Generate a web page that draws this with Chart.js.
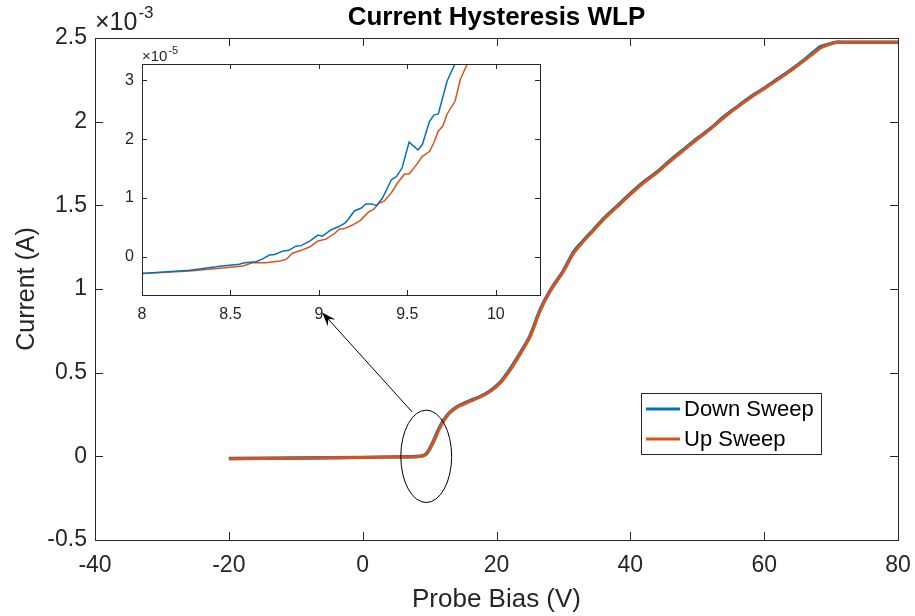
<!DOCTYPE html>
<html>
<head>
<meta charset="utf-8">
<script src="https://cdn.jsdelivr.net/npm/chart.js@4"></script>
<style>
    body { margin: 0; background: #fff; }
    #wrap { position: relative; width: 915px; height: 616px; }
    #mainChart { position: absolute; left: 0; top: 0; }
    #insetChart { position: absolute; left: 100px; top: 44px; }
</style>
</head>
<body>
<div id="wrap">
    <canvas id="mainChart" width="915" height="616"></canvas>
    <canvas id="insetChart" width="460" height="286"></canvas>
</div>
<script>
// main plot data (probe bias in V, current in units of 1e-3 A)
const mainV = [-20, -10, 0, 5, 8, 9, 9.6, 10.5, 11.5, 12.5, 13.5, 14.5, 16, 17.5, 19, 20.5, 22, 23.5, 25, 26.5, 28, 30, 31.5, 33, 34.5, 36, 38, 40, 42, 44, 46, 48, 50, 52, 54, 56, 58, 60, 62, 64, 66, 67.5, 68.5, 69.5, 70.8, 72, 76, 80];
const downMain = [-0.013, -0.01, -0.006, -0.003, -0.001, 0.004, 0.02, 0.085, 0.175, 0.24, 0.28, 0.305, 0.332, 0.356, 0.39, 0.44, 0.52, 0.615, 0.72, 0.875, 0.99, 1.11, 1.22, 1.29, 1.355, 1.42, 1.495, 1.57, 1.64, 1.70, 1.77, 1.835, 1.90, 1.96, 2.03, 2.09, 2.15, 2.20, 2.255, 2.31, 2.37, 2.42, 2.45, 2.462, 2.475, 2.475, 2.475, 2.475];
const upMain = [-0.014, -0.011, -0.007, -0.004, -0.002, 0.002, 0.015, 0.077, 0.167, 0.235, 0.276, 0.301, 0.328, 0.353, 0.386, 0.435, 0.512, 0.608, 0.712, 0.867, 0.985, 1.105, 1.212, 1.285, 1.35, 1.415, 1.49, 1.565, 1.635, 1.695, 1.765, 1.83, 1.895, 1.957, 2.025, 2.087, 2.145, 2.197, 2.25, 2.305, 2.365, 2.412, 2.442, 2.458, 2.473, 2.475, 2.475, 2.475];
const mainXTicks = [-40, -20, 0, 20, 40, 60, 80];
const mainYTicks = [-0.5, 0, 0.5, 1, 1.5, 2, 2.5];

// inset data (current in units of 1e-5 A)
const downInsetV = [8.0, 8.27, 8.42, 8.44, 8.55, 8.58, 8.645, 8.68, 8.72, 8.75, 8.8, 8.83, 8.87, 8.9, 8.95, 8.995, 9.02, 9.07, 9.11, 9.145, 9.165, 9.2, 9.24, 9.265, 9.3, 9.325, 9.36, 9.41, 9.44, 9.47, 9.51, 9.56, 9.585, 9.625, 9.65, 9.675, 9.725, 9.77, 9.82];
const downInsetI = [-0.285, -0.23, -0.17, -0.16, -0.125, -0.10, -0.085, -0.04, 0.03, 0.04, 0.1, 0.11, 0.18, 0.19, 0.27, 0.37, 0.35, 0.46, 0.51, 0.57, 0.63, 0.78, 0.83, 0.9, 0.9, 0.87, 1.0, 1.31, 1.37, 1.51, 1.95, 1.82, 1.91, 2.3, 2.41, 2.43, 2.99, 3.29, 3.6];
const upInsetV = [8.0, 8.27, 8.455, 8.57, 8.625, 8.70, 8.78, 8.815, 8.85, 8.9, 8.95, 8.995, 9.04, 9.09, 9.115, 9.145, 9.19, 9.235, 9.28, 9.31, 9.34, 9.37, 9.41, 9.445, 9.485, 9.51, 9.55, 9.585, 9.625, 9.65, 9.675, 9.70, 9.725, 9.77, 9.8, 9.84, 9.88];
const upInsetI = [-0.285, -0.24, -0.19, -0.155, -0.1, -0.1, -0.07, -0.045, 0.06, 0.11, 0.17, 0.27, 0.3, 0.4, 0.47, 0.48, 0.54, 0.62, 0.76, 0.81, 0.91, 0.95, 1.09, 1.26, 1.41, 1.41, 1.56, 1.71, 1.79, 1.94, 2.14, 2.22, 2.43, 2.65, 3.02, 3.29, 3.6];
const insetXTicks = [8, 8.5, 9, 9.5, 10];
const insetYTicks = [0, 1, 2, 3];

const BLUE = '#0072BD';
const ORANGE = '#D95319';
const AXIS = '#262626';
const FONT = '"Liberation Sans", Arial, Helvetica, sans-serif';

function pairs(xs, ys) {
    return xs.map((x, i) => ({ x: x, y: ys[i] }));
}

function fixedTicks(values) {
    return function(scale) {
        scale.ticks = values.map(v => ({ value: v }));
    };
}

// plain number labels, no padded decimals
function plainLabel(value) {
    return String(Math.round(value * 1000) / 1000);
}

// MATLAB style box with ticks pointing inwards on all four sides
function boxPlugin(tickLen) {
    return {
        id: 'box',
        beforeDraw(chart) {
            const a = chart.chartArea;
            const ctx = chart.ctx;
            ctx.save();
            ctx.fillStyle = '#fff';
            ctx.fillRect(a.left, a.top, a.right - a.left, a.bottom - a.top);
            ctx.restore();
        },
        afterDraw(chart) {
            const a = chart.chartArea;
            const ctx = chart.ctx;
            ctx.save();
            ctx.strokeStyle = AXIS;
            ctx.lineWidth = 1;
            ctx.strokeRect(Math.round(a.left) + 0.5, Math.round(a.top) + 0.5, Math.round(a.right - a.left), Math.round(a.bottom - a.top));
            ctx.beginPath();
            chart.scales.x.ticks.forEach(t => {
                const px = Math.round(chart.scales.x.getPixelForValue(t.value)) + 0.5;
                ctx.moveTo(px, a.bottom);
                ctx.lineTo(px, a.bottom - tickLen);
                ctx.moveTo(px, a.top);
                ctx.lineTo(px, a.top + tickLen);
            });
            chart.scales.y.ticks.forEach(t => {
                const py = Math.round(chart.scales.y.getPixelForValue(t.value)) + 0.5;
                ctx.moveTo(a.left, py);
                ctx.lineTo(a.left + tickLen, py);
                ctx.moveTo(a.right, py);
                ctx.lineTo(a.right - tickLen, py);
            });
            ctx.stroke();
            ctx.restore();
        }
    };
}

// "x10^n" exponent label above the y axis
function exponentPlugin(exp, bigSize, smallSize, dx, baseY) {
    return {
        id: 'exponent',
        afterDraw(chart) {
            const ctx = chart.ctx;
            const a = chart.chartArea;
            ctx.save();
            ctx.fillStyle = AXIS;
            ctx.textBaseline = 'alphabetic';
            ctx.font = bigSize + 'px ' + FONT;
            const base = '\u00d710';
            ctx.fillText(base, a.left + dx, baseY);
            const w = ctx.measureText(base).width;
            ctx.font = smallSize + 'px ' + FONT;
            ctx.fillText(exp, a.left + dx + w + 1, baseY - bigSize * 0.5);
            ctx.restore();
        }
    };
}

// annotation: ellipse round the knee and arrow to the inset (data units)
const knee = { x: 9.5, y: 0, rx: 3.8, ry: 0.276 };
const arrowFrom = { x: 7.4, y: 0.265 };
const arrowTo = { x: -6.05, y: 0.86 };

const mainDecor = {
    id: 'mainDecor',
    afterDraw(chart) {
        const ctx = chart.ctx;
        const xs = chart.scales.x;
        const ys = chart.scales.y;
        const a = chart.chartArea;
        ctx.save();
        ctx.strokeStyle = '#000';
        ctx.lineWidth = 1;

        const cx = xs.getPixelForValue(knee.x);
        const cy = ys.getPixelForValue(knee.y);
        const rx = xs.getPixelForValue(knee.x + knee.rx) - cx;
        const ry = cy - ys.getPixelForValue(knee.y + knee.ry);
        ctx.beginPath();
        ctx.ellipse(cx, cy, rx, ry, 0, 0, Math.PI * 2);
        ctx.stroke();

        const x1 = xs.getPixelForValue(arrowFrom.x), y1 = ys.getPixelForValue(arrowFrom.y);
        const x2 = xs.getPixelForValue(arrowTo.x), y2 = ys.getPixelForValue(arrowTo.y);
        const ang = Math.atan2(y2 - y1, x2 - x1);
        ctx.beginPath();
        ctx.moveTo(x1, y1);
        ctx.lineTo(x2 - 8 * Math.cos(ang), y2 - 8 * Math.sin(ang));
        ctx.stroke();
        ctx.fillStyle = '#000';
        ctx.beginPath();
        ctx.moveTo(x2, y2);
        ctx.lineTo(x2 - 14 * Math.cos(ang) + 5 * Math.sin(ang), y2 - 14 * Math.sin(ang) - 5 * Math.cos(ang));
        ctx.lineTo(x2 - 9 * Math.cos(ang), y2 - 9 * Math.sin(ang));
        ctx.lineTo(x2 - 14 * Math.cos(ang) - 5 * Math.sin(ang), y2 - 14 * Math.sin(ang) + 5 * Math.cos(ang));
        ctx.closePath();
        ctx.fill();

        // titles
        ctx.fillStyle = '#000';
        ctx.textAlign = 'center';
        ctx.textBaseline = 'alphabetic';
        ctx.font = 'bold 26px ' + FONT;
        ctx.fillText('Current Hysteresis WLP', (a.left + a.right) / 2, 25);
        ctx.fillStyle = AXIS;
        ctx.font = '26px ' + FONT;
        ctx.fillText('Probe Bias (V)', (a.left + a.right) / 2, 607);
        ctx.save();
        ctx.translate(34, (a.top + a.bottom) / 2);
        ctx.rotate(-Math.PI / 2);
        ctx.font = '25px ' + FONT;
        ctx.fillText('Current (A)', 0, 0);
        ctx.restore();

        // legend
        const lx = 641, ly = 393, lw = 180, lh = 61;
        ctx.fillStyle = '#fff';
        ctx.fillRect(lx, ly, lw, lh);
        ctx.strokeStyle = AXIS;
        ctx.strokeRect(lx + 0.5, ly + 0.5, lw, lh);
        const items = [[chart.data.datasets[0].label, BLUE, 409], [chart.data.datasets[1].label, ORANGE, 439]];
        ctx.textAlign = 'left';
        ctx.textBaseline = 'middle';
        ctx.font = '22px ' + FONT;
        items.forEach(it => {
            ctx.strokeStyle = it[1];
            ctx.lineWidth = 3;
            ctx.beginPath();
            ctx.moveTo(646, it[2]);
            ctx.lineTo(680, it[2]);
            ctx.stroke();
            ctx.fillStyle = '#000';
            ctx.fillText(it[0], 684, it[2] + 1);
        });
        ctx.restore();
    }
};

new Chart(document.getElementById('mainChart'), {
    type: 'line',
    data: {
        datasets: [
            { label: 'Down Sweep', data: pairs(mainV, downMain), borderColor: BLUE, borderWidth: 3.4, pointRadius: 0, tension: 0.3, fill: false, order: 1 },
            { label: 'Up Sweep', data: pairs(mainV, upMain), borderColor: ORANGE, borderWidth: 3, pointRadius: 0, tension: 0.3, fill: false, order: 0 }
        ]
    },
    options: {
        responsive: false,
        animation: false,
        devicePixelRatio: 1,
        layout: { padding: { top: 38, right: 17, left: 0, bottom: 0 } },
        plugins: { legend: { display: false }, tooltip: { enabled: false }, title: { display: false } },
        scales: {
            x: {
                type: 'linear', min: -40, max: 80,
                afterBuildTicks: fixedTicks(mainXTicks),
                afterFit(s) { s.height = 76; s.paddingLeft = 0; s.paddingRight = 0; },
                grid: { display: false, drawTicks: false },
                border: { display: false },
                ticks: { color: AXIS, padding: 12, maxRotation: 0, callback: plainLabel, font: { family: FONT, size: 23 } }
            },
            y: {
                type: 'linear', min: -0.5, max: 2.5,
                afterBuildTicks: fixedTicks(mainYTicks),
                afterFit(s) { s.width = 95; s.paddingTop = 0; s.paddingBottom = 0; },
                grid: { display: false, drawTicks: false },
                border: { display: false },
                ticks: { color: AXIS, padding: 8, callback: plainLabel, font: { family: FONT, size: 23 } }
            }
        }
    },
    plugins: [boxPlugin(8), exponentPlugin('-3', 25, 17, 0, 30), mainDecor]
});

new Chart(document.getElementById('insetChart'), {
    type: 'line',
    data: {
        datasets: [
            { label: 'Down Sweep', data: pairs(downInsetV, downInsetI), borderColor: BLUE, borderWidth: 1.5, pointRadius: 0, tension: 0, fill: false, order: 0 },
            { label: 'Up Sweep', data: pairs(upInsetV, upInsetI), borderColor: ORANGE, borderWidth: 1.5, pointRadius: 0, tension: 0, fill: false, order: 1 }
        ]
    },
    options: {
        responsive: false,
        animation: false,
        devicePixelRatio: 1,
        layout: { padding: { top: 20, right: 20, left: 0, bottom: 0 } },
        plugins: { legend: { display: false }, tooltip: { enabled: false } },
        scales: {
            x: {
                type: 'linear', min: 8, max: 10.25,
                afterBuildTicks: fixedTicks(insetXTicks),
                afterFit(s) { s.height = 35; s.paddingLeft = 0; s.paddingRight = 0; },
                grid: { display: false, drawTicks: false },
                border: { display: false },
                ticks: { color: AXIS, padding: 10, maxRotation: 0, callback: plainLabel, font: { family: FONT, size: 16 } }
            },
            y: {
                type: 'linear', min: -0.65, max: 3.28,
                afterBuildTicks: fixedTicks(insetYTicks),
                afterFit(s) { s.width = 42; s.paddingTop = 0; s.paddingBottom = 0; },
                grid: { display: false, drawTicks: false },
                border: { display: false },
                ticks: { color: AXIS, padding: 8, callback: plainLabel, font: { family: FONT, size: 16 } }
            }
        }
    },
    plugins: [boxPlugin(5), exponentPlugin('-5', 15, 11, 0, 17)]
});
</script>
</body>
</html>
